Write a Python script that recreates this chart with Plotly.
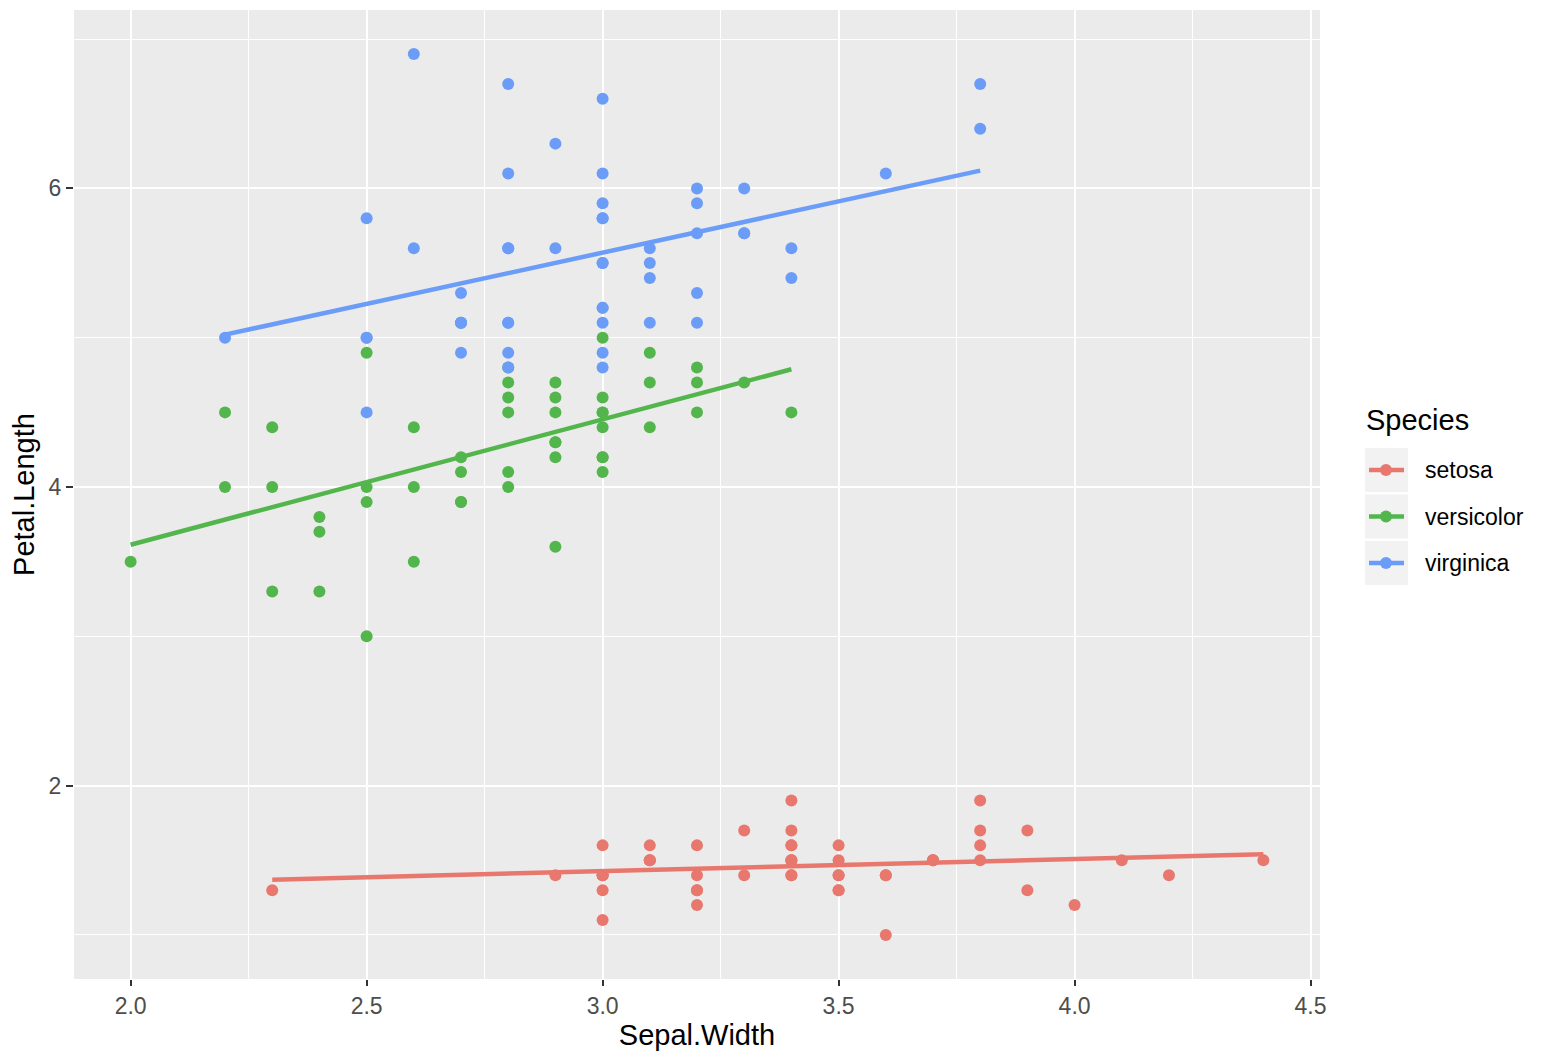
import numpy as np
import plotly.graph_objects as go

species = ["setosa", "versicolor", "virginica"]
colors = ["#E8786D", "#53B64C", "#6B9DF8"]

setosa_sw = [3.5,3.0,3.2,3.1,3.6,3.9,3.4,3.4,2.9,3.1,3.7,3.4,3.0,3.0,4.0,4.4,3.9,3.5,3.8,3.8,
             3.4,3.7,3.6,3.3,3.4,3.0,3.4,3.5,3.4,3.2,3.1,3.4,4.1,4.2,3.1,3.2,3.5,3.6,3.0,3.4,
             3.5,2.3,3.2,3.5,3.8,3.0,3.8,3.2,3.7,3.3]
setosa_pl = [1.4,1.4,1.3,1.5,1.4,1.7,1.4,1.5,1.4,1.5,1.5,1.6,1.4,1.1,1.2,1.5,1.3,1.4,1.7,1.5,
             1.7,1.5,1.0,1.7,1.9,1.6,1.6,1.5,1.4,1.6,1.6,1.5,1.5,1.4,1.5,1.2,1.3,1.4,1.3,1.5,
             1.3,1.3,1.3,1.6,1.9,1.4,1.6,1.4,1.5,1.4]
versicolor_sw = [3.2,3.2,3.1,2.3,2.8,2.8,3.3,2.4,2.9,2.7,2.0,3.0,2.2,2.9,2.9,3.1,3.0,2.7,2.2,2.5,
                 3.2,2.8,2.5,2.8,2.9,3.0,2.8,3.0,2.9,2.6,2.4,2.4,2.7,2.7,3.0,3.4,3.1,2.3,3.0,2.5,
                 2.6,3.0,2.6,2.3,2.7,3.0,2.9,2.9,2.5,2.8]
versicolor_pl = [4.7,4.5,4.9,4.0,4.6,4.5,4.7,3.3,4.6,3.9,3.5,4.2,4.0,4.7,3.6,4.4,4.5,4.1,4.5,3.9,
                 4.8,4.0,4.9,4.7,4.3,4.4,4.8,5.0,4.5,3.5,3.8,3.7,3.9,5.1,4.5,4.5,4.7,4.4,4.1,4.0,
                 4.4,4.6,4.0,3.3,4.2,4.2,4.2,4.3,3.0,4.1]
virginica_sw = [3.3,2.7,3.0,2.9,3.0,3.0,2.5,2.9,2.5,3.6,3.2,2.7,3.0,2.5,2.8,3.2,3.0,3.8,2.6,2.2,
                3.2,2.8,2.8,2.7,3.3,3.2,2.8,3.0,2.8,3.0,2.8,3.8,2.8,2.8,2.6,3.0,3.4,3.1,3.0,3.1,
                3.1,3.1,2.7,3.2,3.3,3.0,2.5,3.0,3.4,3.0]
virginica_pl = [6.0,5.1,5.9,5.6,5.8,6.6,4.5,6.3,5.8,6.1,5.1,5.3,5.5,5.0,5.1,5.3,5.5,6.7,6.9,5.0,
                5.7,4.9,6.7,4.9,5.7,6.0,4.8,4.9,5.6,5.8,6.1,6.4,5.6,5.1,5.6,6.1,5.6,5.5,4.8,5.4,
                5.6,5.1,5.1,5.9,5.7,5.2,5.0,5.2,5.4,5.1]

x_ticks = [2.0, 2.5, 3.0, 3.5, 4.0, 4.5]
x_tick_labels = ["2.0", "2.5", "3.0", "3.5", "4.0", "4.5"]
y_ticks = [2, 4, 6]
y_tick_labels = ["2", "4", "6"]
legend_title = "Species"

data = [(setosa_sw, setosa_pl), (versicolor_sw, versicolor_pl), (virginica_sw, virginica_pl)]

fig = go.Figure()
FONT = "Liberation Sans, Arial, sans-serif"

for (sw, pl), c, name in zip(data, colors, species):
    fig.add_trace(go.Scatter(x=sw, y=pl, mode="markers", name=name,
                             marker=dict(color=c, size=12, line=dict(width=0)),
                             showlegend=False))
for (sw, pl), c, name in zip(data, colors, species):
    slope, icpt = np.polyfit(sw, pl, 1)
    xs = np.array([min(sw), max(sw)])
    fig.add_trace(go.Scatter(x=xs, y=slope * xs + icpt, mode="lines", name=name + " fit",
                             line=dict(color=c, width=4.5), showlegend=False))

TICKFONT = dict(family=FONT, size=23, color="#4D4D4D")
TITLEFONT = dict(family=FONT, size=29, color="black")

fig.update_layout(
    xaxis=dict(range=[1.88, 4.52], tickmode="array", tickvals=x_ticks, ticktext=x_tick_labels,
               showgrid=True, gridcolor="white", gridwidth=2.2, zeroline=False,
               ticks="outside", ticklen=6, tickwidth=2, tickcolor="#333333",
               tickfont=TICKFONT, showline=False,
               minor=dict(dtick=0.25, tick0=2.0, showgrid=True, gridcolor="white", gridwidth=1.1),
               title=dict(text="Sepal.Width", font=TITLEFONT, standoff=7)),
    yaxis=dict(range=[0.705, 7.195], tickmode="array", tickvals=y_ticks, ticktext=y_tick_labels,
               showgrid=True, gridcolor="white", gridwidth=2.2, zeroline=False,
               ticks="outside", ticklen=7, tickwidth=2, tickcolor="#333333",
               tickfont=TICKFONT, showline=False,
               minor=dict(dtick=1, tick0=1, showgrid=True, gridcolor="white", gridwidth=1.1),
               title=dict(text="Petal.Length", font=TITLEFONT, standoff=5)),
)

# ---- manual legend (ggplot style) ----
L, T, W, H = 74, 10, 1246, 969
def px(x):
    return (x - L) / W
def py(y):
    return (T + H - y) / H

fig.add_annotation(x=px(1364), y=py(420), xref="paper", yref="paper", text=legend_title,
                   showarrow=False, xanchor="left", yanchor="middle", font=TITLEFONT)
for i, (name, c) in enumerate(zip(species, colors)):
    top = 448 + i * 46.5
    cy = top + 22
    fig.add_shape(type="rect", xref="paper", yref="paper",
                  x0=px(1365), x1=px(1408), y0=py(top + 44), y1=py(top),
                  fillcolor="#F2F2F2", line=dict(width=0))
    fig.add_shape(type="line", xref="paper", yref="paper",
                  x0=px(1369), x1=px(1404), y0=py(cy), y1=py(cy),
                  line=dict(color=c, width=4.5))
    fig.add_shape(type="circle", xref="paper", yref="paper",
                  x0=px(1380), x1=px(1392), y0=py(cy + 6), y1=py(cy - 6),
                  fillcolor=c, line=dict(width=0))
    fig.add_annotation(x=px(1423), y=py(cy), xref="paper", yref="paper", text=name,
                       showarrow=False, xanchor="left", yanchor="middle",
                       font=dict(family=FONT, size=23, color="black"))

fig.update_layout(
    width=1544, height=1058,
    margin=dict(l=74, r=224, t=10, b=79),
    paper_bgcolor="white", plot_bgcolor="#EBEBEB",
    font=dict(family=FONT),
    showlegend=False,
)

fig.write_html("out.html")
